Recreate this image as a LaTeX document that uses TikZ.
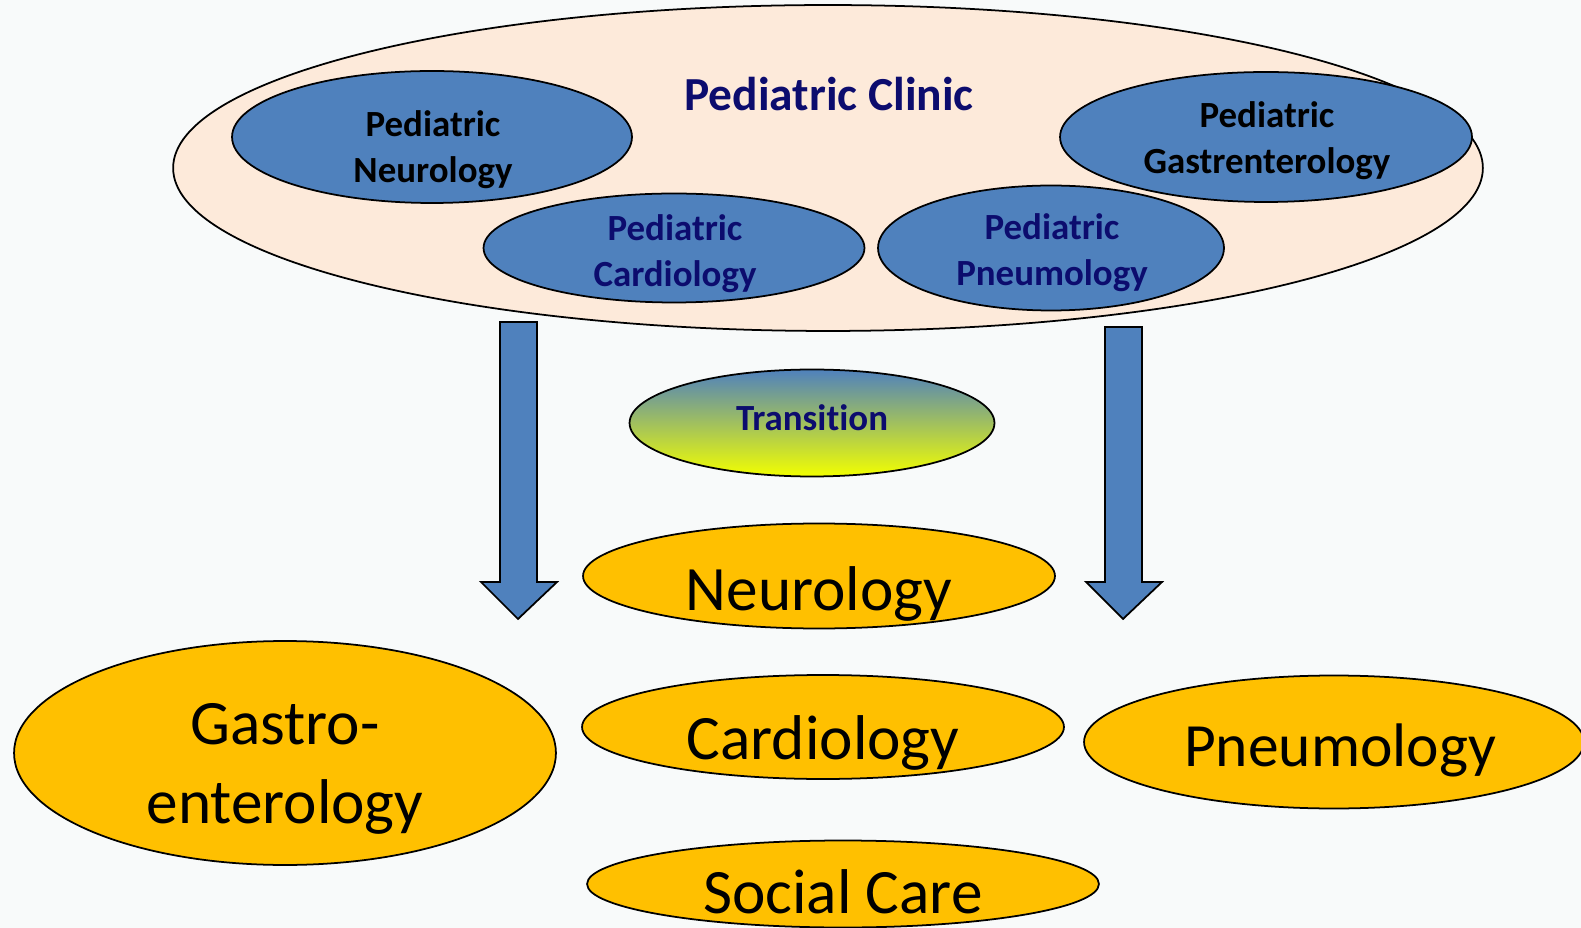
\documentclass[tikz,border=0pt]{standalone}
\usepackage{fontspec}
\setmainfont{Carlito}[Ligatures=NoCommon]
\usetikzlibrary{shapes.geometric}

\definecolor{paper}{RGB}{248,250,250}
\definecolor{peach}{RGB}{253,234,218}
\definecolor{steel}{RGB}{79,129,189}
\definecolor{amber}{RGB}{255,192,0}
\definecolor{ink}{RGB}{12,12,110}

\tikzset{
  oval/.style={ellipse,draw=black,line width=1pt,inner sep=0pt},
  clinicoval/.style={oval,fill=peach},
  deptoval/.style={oval,fill=steel},
  adultoval/.style={oval,fill=amber},
  pedlabel/.style={font=\bfseries\fontsize{21}{26}\selectfont,align=center,inner sep=0pt},
  adultlabel/.style={font=\fontsize{36}{45}\selectfont,align=center,inner sep=0pt},
  downarrow/.style={fill=steel,draw=black,line width=1pt,line join=miter}
}

\begin{document}
\begin{tikzpicture}[x=0.02cm,y=-0.02cm]
\useasboundingbox (0,0) rectangle (1581,928);
\fill[paper] (0,0) rectangle (1581,928);
\clip (0,0) rectangle (1581,928);

% pediatric clinic with its departments
\node[clinicoval,minimum width=26.2cm,minimum height=6.52cm] (clinic) at (828,168) {};
\node[deptoval,minimum width=8cm,minimum height=2.64cm] (pneuro) at (432,137) {};
\node[deptoval,minimum width=8.24cm,minimum height=2.6cm] (pgastro) at (1266,137) {};
\node[deptoval,minimum width=7.62cm,minimum height=2.18cm] (pcardio) at (674,248) {};
\node[deptoval,minimum width=6.92cm,minimum height=2.5cm] (ppneumo) at (1051,248) {};

\node[pedlabel,font=\bfseries\fontsize{27}{32}\selectfont,text=ink,anchor=base] (clinic-t) at (829,111) {Pediatric Clinic};
\node[pedlabel] (pneuro-t) at (433,150) {Pediatric\\Neurology};
\node[pedlabel] (pgastro-t) at (1267,141) {Pediatric\\Gastrenterology};
\node[pedlabel,text=ink] (pcardio-t) at (675,254) {Pediatric\\Cardiology};
\node[pedlabel,text=ink] (ppneumo-t) at (1052,253) {Pediatric\\Pneumology};

% the two block arrows
\draw[downarrow] (500,322) -- (537,322) -- (537,582) -- (557,582) -- (518,619)
  -- (481,582) -- (500,582) -- cycle;
\draw[downarrow] (1105,327) -- (1142,327) -- (1142,582) -- (1162,582) -- (1123,619)
  -- (1086,582) -- (1105,582) -- cycle;

% transition
\node[oval,top color=steel,bottom color=yellow!95!green,minimum width=7.3cm,minimum height=2.14cm] (trans) at (812,423) {};
\node[pedlabel,text=ink,anchor=base] (trans-t) at (812,431) {Transition};

% adult care
\node[adultoval,minimum width=9.44cm,minimum height=2.1cm] (neuro) at (819,576) {};
\node[adultoval,minimum width=10.84cm,minimum height=4.48cm] (gastro) at (285,753) {};
\node[adultoval,minimum width=9.64cm,minimum height=2.08cm] (cardio) at (823,727) {};
\node[adultoval,minimum width=10cm,minimum height=2.66cm] (pneumo) at (1334,742) {};
\node[adultoval,minimum width=10.24cm,minimum height=1.74cm] (social) at (843,884) {};

\node[adultlabel,anchor=base] (neuro-t) at (819,610) {Neurology};
\node[adultlabel] (gastro-t) at (285,769) {Gastro-\\enterology};
\node[adultlabel,anchor=base] (cardio-t) at (823,759) {Cardiology};
\node[adultlabel,anchor=base,font=\fontsize{35}{44}\selectfont] (pneumo-t) at (1340,766) {Pneumology};
\node[adultlabel,anchor=base] (social-t) at (843,913) {Social Care};

\end{tikzpicture}
\end{document}
